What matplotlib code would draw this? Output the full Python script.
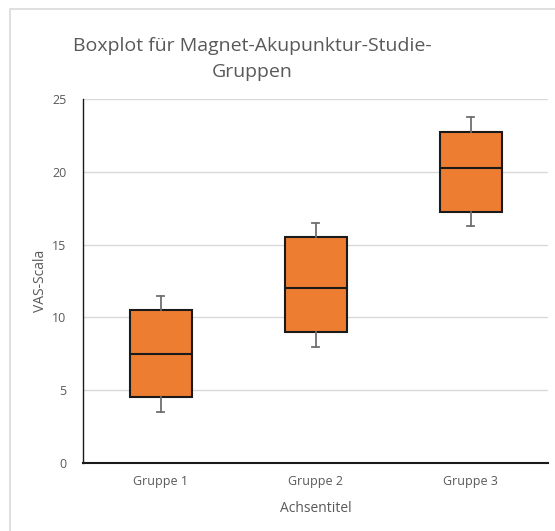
import matplotlib
matplotlib.use("Agg")
import matplotlib.pyplot as plt
from matplotlib.patches import Rectangle

# Five-number summaries per group
groups = ["Gruppe 1", "Gruppe 2", "Gruppe 3"]
whisker_low = [3.5, 8.0, 16.25]
q1 = [4.5, 9.0, 17.25]
median = [7.5, 12.0, 20.25]
q3 = [10.5, 15.5, 22.75]
whisker_high = [11.5, 16.5, 23.75]
y_ticks = [0, 5, 10, 15, 20, 25]

plt.rcParams['font.family'] = ['Open Sans', 'DejaVu Sans']
text_color = "#595959"

fig = plt.figure(figsize=(5.55, 5.31), dpi=100)
W, H = 555, 531
ax = fig.add_axes([83 / W, 1 - 463 / H, (548 - 83) / W, (463 - 99) / H])

stats = []
for i, g in enumerate(groups):
    stats.append(dict(label=g, whislo=whisker_low[i], q1=q1[i], med=median[i],
                      q3=q3[i], whishi=whisker_high[i], fliers=[]))

positions = list(range(len(groups)))
ax.bxp(stats, positions=positions, widths=0.4, patch_artist=True,
       showfliers=False,
       boxprops=dict(facecolor="#ED7D31", edgecolor="#1a1a1a", linewidth=1.5),
       medianprops=dict(color="#1a1a1a", linewidth=1.5),
       whiskerprops=dict(color="#6f6f6f", linewidth=1.3),
       capprops=dict(color="#6f6f6f", linewidth=1.3),
       capwidths=0.05, zorder=3)

ax.set_xlim(-0.5, len(groups) - 0.5)
ax.set_ylim(0, 25)
ax.set_yticks(y_ticks)
ax.set_xticks(positions)
ax.set_xticklabels(groups)
ax.yaxis.grid(True, color="#d9d9d9", linewidth=1)
ax.set_axisbelow(True)
for s in ["top", "right"]:
    ax.spines[s].set_visible(False)
ax.spines["left"].set_color("#1a1a1a")
ax.spines["bottom"].set_color("#1a1a1a")
ax.spines["left"].set_linewidth(1.0)
ax.spines["bottom"].set_linewidth(1.5)
ax.tick_params(axis="both", length=0, labelsize=9, colors=text_color, pad=12)
ax.tick_params(axis="x", pad=9)

ax.set_ylabel("VAS-Scala", fontsize=10, color=text_color, labelpad=3)
ax.set_xlabel("Achsentitel", fontsize=10, color=text_color, labelpad=9)

fig.text(252 / W, 1 - 59 / H, "Boxplot für Magnet-Akupunktur-Studie-\nGruppen",
         ha="center", va="center", fontsize=14, color=text_color,
         linespacing=1.55)

# Chart area frame
fig.patches.append(Rectangle((10 / W, -0.1), 1.2, 1 - 9 / H + 0.1,
                             transform=fig.transFigure, fill=False,
                             edgecolor="#d9d9d9", linewidth=1.2))

fig.savefig("out.png", dpi=100)
